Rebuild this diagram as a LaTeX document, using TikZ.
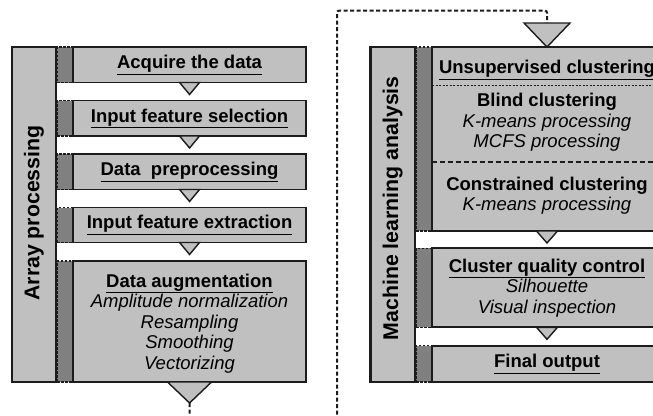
\documentclass[tikz,border=0pt]{standalone}
\usepackage{fontspec}
\setmainfont{Liberation Sans}
\usetikzlibrary{calc, positioning}
\definecolor{stagecolor}{RGB}{192, 192, 192}
\definecolor{stripcolor}{RGB}{128, 128, 128}
\definecolor{edgecolor}{RGB}{28, 28, 28}

\begin{document}
\begin{tikzpicture}[x=1pt, y=-1pt,
    stage/.style={draw=edgecolor, line width=1.8pt, fill=stagecolor, anchor=north west, outer sep=0pt, inner sep=0pt, align=center, minimum width=232.5pt, font=\fontsize{18.5}{20.5}\selectfont},
    stagetext/.style={align=center, inner sep=0pt, font=\fontsize{18.5}{20.5}\selectfont},
    strip/.style={draw=edgecolor, line width=1.4pt, dash pattern=on 2.5pt off 1.5pt, fill=stripcolor, anchor=north west, outer sep=0pt, inner sep=0pt, minimum width=16.5pt},
    bar/.style={draw=edgecolor, line width=2.4pt, fill=stagecolor, rotate=90, inner sep=0pt, minimum width=335pt, minimum height=44.5pt},
    bartext/.style={rotate=90, inner sep=0pt, font=\fontsize{21.3}{24}\selectfont\bfseries},
    tri/.style={draw=edgecolor, line width=1.4pt, fill=stagecolor, line join=miter},
    link/.style={draw=edgecolor, line width=2pt, dash pattern=on 4pt off 2.5pt}
]
    \useasboundingbox (0, 0) rectangle (653, 415);
    \clip (0, 0) rectangle (653, 415);

    % Array processing: side strips
    \node[strip, minimum height=35.5pt] (acqstrip) at (57, 47) {};
    \node[strip, minimum height=35.5pt] (selstrip) at (57, 100.5) {};
    \node[strip, minimum height=35.5pt] (prepstrip) at (57, 154) {};
    \node[strip, minimum height=35pt] (extstrip) at (57, 207.5) {};
    \node[strip, minimum height=121pt] (augstrip) at (57, 261) {};

    % Array processing: bar
    \node[bar] (arraybar) at (34, 214.5) {};
    \node[bartext] (arraylabel) at (34, 213) {Array processing};

    % Array processing: stages
    \node[stage, minimum height=35.5pt] (acquire) at (73.3, 47) {\textbf{\underline{Acquire the data}}};
    \node[stage, minimum height=35.5pt] (select) at (73.3, 100.5) {\textbf{\underline{Input feature selection}}};
    \node[stage, minimum height=35.5pt] (prep) at (73.3, 154) {\textbf{\underline{Data~~preprocessing}}};
    \node[stage, minimum height=35pt] (extract) at (73.3, 207.5) {\textbf{\underline{Input feature extraction}}};
    \node[stage, minimum height=121pt] (augment) at (73.3, 261) {};
    \node[stagetext] (augtext) at (189.5, 323.5) {\textbf{\underline{Data augmentation}}\\ \textit{Amplitude normalization}\\ \textit{Resampling}\\ \textit{Smoothing}\\ \textit{Vectorizing}};

    % Array processing: flow marks
    \filldraw[tri] ($(acquire.south)+(-10,0)$) -- ++(20,0) -- ++(-10,12) -- cycle;
    \filldraw[tri] ($(select.south)+(-10,0)$) -- ++(20,0) -- ++(-10,12) -- cycle;
    \filldraw[tri] ($(prep.south)+(-10,0)$) -- ++(20,0) -- ++(-10,12) -- cycle;
    \filldraw[tri] ($(extract.south)+(-10,0)$) -- ++(20,0) -- ++(-10,12) -- cycle;
    \filldraw[tri] ($(augment.south)+(-22,0)$) -- ++(44,0) -- ++(-22,21) coordinate (augtip) -- cycle;

    % Machine learning analysis: side strips
    \node[strip, minimum height=184pt] (unsupstrip) at (416, 47) {};
    \node[strip, minimum height=79pt] (qualstrip) at (416, 248.3) {};
    \node[strip, minimum height=36.3pt] (finstrip) at (416, 345.7) {};

    % Machine learning analysis: bar
    \node[bar] (mlbar) at (392.7, 214.5) {};
    \node[bartext] (mllabel) at (392.7, 208.3) {Machine learning analysis};

    % Machine learning analysis: stages
    \node[stage, minimum width=230pt, minimum height=184pt] (unsup) at (432, 47) {};
    \node[stagetext] (unsuptitle) at (547, 70) {\textbf{\underline{Unsupervised clustering}}};
    \draw[edgecolor, line width=1pt, dash pattern=on 2pt off 1.5pt] ($(unsup.north west)+(0,38)$) -- ($(unsup.north east)+(0,38)$);
    \node[stagetext] (blind) at (547, 122.5) {\textbf{Blind clustering}\\ \textit{K-means processing}\\ \textit{MCFS processing}};
    \draw[edgecolor, line width=1.8pt, dash pattern=on 5pt off 3pt] ($(unsup.north west)+(0,115)$) -- ($(unsup.north east)+(0,115)$);
    \node[stagetext] (constrained) at (547, 195.5) {\textbf{Constrained clustering}\\ \textit{K-means processing}};
    \node[stage, minimum width=230pt, minimum height=79pt] (quality) at (432, 248.3) {\textbf{\underline{Cluster quality control}}\\ \textit{Silhouette}\\ \textit{Visual inspection}};
    \node[stage, minimum width=230pt, minimum height=36.3pt] (final) at (432, 345.7) {\textbf{\underline{Final output}}};

    % Machine learning analysis: flow marks
    \filldraw[tri] ($(unsup.north)+(-23,-24)$) -- ++(46,0) -- (unsup.north) -- cycle;
    \filldraw[tri] ($(unsup.south)+(-10.5,0)$) -- ++(21,0) -- ++(-10.5,12) -- cycle;
    \filldraw[tri] ($(quality.south)+(-10.5,0)$) -- ++(21,0) -- ++(-10.5,12) -- cycle;
    \coordinate (inlink) at ($(unsup.north)+(0,-24)$);

    % Hand-over between the two panels
    \coordinate (lowturn) at (337, 440);
    \coordinate (highturn) at (337, 10.7);
    \draw[link, rounded corners=2pt] (augtip) |- (lowturn) -- (highturn) -| (inlink);

\end{tikzpicture}
\end{document}
